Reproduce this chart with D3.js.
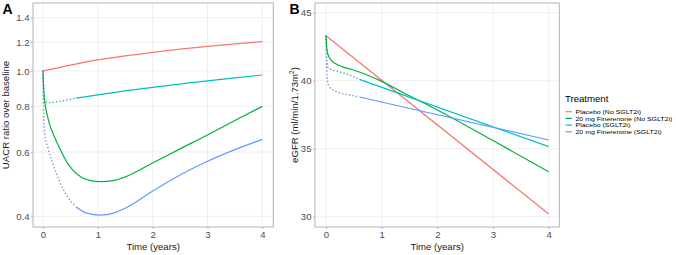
<!DOCTYPE html>
<html><head><meta charset="utf-8">
<script src="https://cdn.jsdelivr.net/npm/d3@7"></script>
<style>body{margin:0;background:#fff}svg{display:block;font-family:"Liberation Sans",Arial,sans-serif;font-weight:400}</style>
</head><body><svg id="c" width="676" height="255"></svg>
<script>
// ---------- data ----------
const seriesNames = ["Placebo (No SGLT2i)", "20 mg Finerenone (No SGLT2i)", "Placebo (SGLT2i)", "20 mg Finerenone (SGLT2i)"];
const seriesColors = ["#F8766D", "#00B140", "#00BFC4", "#619CFF"];
const xTicks = [0, 1, 2, 3, 4];
const uacrTicks = [0.4, 0.6, 0.8, 1.0, 1.2, 1.4];
const egfrTicks = [30, 35, 40, 45];

// Panel A: UACR ratio over baseline  [time, value]
const uacrPlaceboNo = [[0,1.0],[0.5,1.038],[1,1.072],[1.5,1.1],[2,1.125],[2.5,1.148],[3,1.168],[3.5,1.186],[4,1.203]];
const uacrFinNo = [[0,1.0],[0.015,0.88],[0.03,0.83],[0.07,0.765],[0.12,0.715],[0.2,0.665],[0.27,0.63],[0.4,0.575],[0.52,0.54],[0.7,0.512],[0.85,0.502],[1.05,0.498],[1.3,0.502],[1.5,0.513],[2,0.56],[2.5,0.612],[3,0.668],[3.5,0.732],[4,0.80]];
const uacrPlaceboSgltDot = [[0,1.0],[0.01,0.9],[0.025,0.845],[0.05,0.825],[0.1,0.819],[0.3,0.826],[0.6,0.842]];
const uacrPlaceboSglt = [[0.6,0.842],[1,0.86],[1.5,0.882],[2,0.902],[2.5,0.921],[3,0.94],[3.5,0.958],[4,0.975]];
const uacrFinSgltDot = [[0,1.0],[0.005,0.86],[0.012,0.76],[0.03,0.68],[0.09,0.617],[0.18,0.558],[0.3,0.5],[0.45,0.452],[0.6,0.425]];
const uacrFinSglt = [[0.6,0.425],[0.8,0.408],[1.05,0.403],[1.3,0.409],[1.5,0.421],[2,0.469],[2.5,0.519],[3,0.566],[3.5,0.609],[4,0.65]];

// Panel B: eGFR (ml/min/1.73m2)
const egfrPlaceboNo = [[0,43.3],[4,30.2]];
const egfrFinNo = [[0,43.3],[0.01,42.6],[0.025,42.1],[0.06,41.7],[0.1,41.48],[0.16,41.28],[0.3,41.02],[0.45,40.84],[0.75,40.4],[1,39.95],[1.4,39.1],[2,37.85],[3,35.6],[4,33.3]];
const egfrPlaceboSgltDot = [[0,43.3],[0.01,41.8],[0.03,41.0],[0.08,40.85],[0.185,40.71],[0.42,40.42],[0.6,40.1]];
const egfrPlaceboSglt = [[0.6,40.1],[4,35.15]];
const egfrFinSgltDot = [[0,43.3],[0.01,41.0],[0.03,39.9],[0.07,39.5],[0.13,39.32],[0.27,39.07],[0.42,38.95],[0.6,38.8]];
const egfrFinSglt = [[0.6,38.8],[4,35.64]];

// ---------- drawing ----------
const svg = d3.select("#c");
const gridCol = "#ebebeb", borderCol = "#b3b3b3", tickTxt = "#4d4d4d";
const FONT = "Liberation Sans, Arial, sans-serif";

function panel(opt) {
  const g = svg.append("g");
  const {x, y, box, ticksY, fmtY, lines, dots, yTitle, tag, tagX, yTitleX} = opt;
  g.append("rect").attr("x", box[0]).attr("y", box[1]).attr("width", box[2]-box[0]).attr("height", box[3]-box[1]).attr("fill", "#fff");
  g.selectAll(".gx").data(xTicks).join("line").attr("x1", d=>x(d)).attr("x2", d=>x(d)).attr("y1", box[1]).attr("y2", box[3]).attr("stroke", gridCol).attr("stroke-width", 0.8);
  g.selectAll(".gy").data(ticksY).join("line").attr("y1", d=>y(d)).attr("y2", d=>y(d)).attr("x1", box[0]).attr("x2", box[2]).attr("stroke", gridCol).attr("stroke-width", 0.8);
  const line = d3.line().x(d=>x(d[0])).y(d=>y(d[1])).curve(d3.curveMonotoneX);
  dots.forEach(([data, ci]) => {
    g.append("path").attr("d", line(data)).attr("fill", "none").attr("stroke", d3.interpolateRgb(seriesColors[ci], "#7f8c9f")(0.45))
      .attr("stroke-width", 1.5).attr("stroke-dasharray", "0.1,3.4").attr("stroke-linecap", "round");
  });
  lines.forEach(([data, ci]) => {
    g.append("path").attr("d", line(data)).attr("fill", "none").attr("stroke", seriesColors[ci]).attr("stroke-width", 1.2);
  });
  g.append("rect").attr("x", box[0]).attr("y", box[1]).attr("width", box[2]-box[0]).attr("height", box[3]-box[1]).attr("fill", "none").attr("stroke", borderCol).attr("stroke-width", 1);
  const ax = g.append("g").attr("transform", `translate(0,${box[3]})`).call(d3.axisBottom(x).tickValues(xTicks).tickSize(2).tickPadding(2).tickFormat(d3.format("d")));
  const ay = g.append("g").attr("transform", `translate(${box[0]},0)`).call(d3.axisLeft(y).tickValues(ticksY).tickSize(2).tickPadding(1.5).tickFormat(fmtY));
  [ax, ay].forEach(a => {
    a.attr("font-family", FONT);
    a.select(".domain").remove();
    a.selectAll("line").attr("stroke", borderCol);
    a.selectAll("text").attr("fill", tickTxt).attr("font-size", 9.6).attr("font-weight", 400);
  });
  g.append("text").attr("x", (box[0]+box[2])/2).attr("y", 250).attr("text-anchor", "middle").attr("font-size", 9.6).attr("fill", "#1a1a1a").text("Time (years)");
  const yt = g.append("text").attr("transform", `translate(${yTitleX},${(box[1]+box[3])/2}) rotate(-90)`).attr("text-anchor", "middle").attr("font-size", 9.6).attr("fill", "#1a1a1a");
  yTitle(yt);
  g.append("text").attr("x", tagX).attr("y", 13.5).attr("font-size", 14).attr("font-weight", "bold").text(tag);
}

// Panel A
const xA = d3.scaleLinear().domain([0, 4]).range([43, 262.3]);
const yA = d3.scaleLog().domain([0.374, 1.535]).range([227, 3]);
panel({x: xA, y: yA, box: [33, 3, 273.3, 227], ticksY: uacrTicks, fmtY: d3.format(".1f"),
  lines: [[uacrPlaceboNo,0],[uacrFinNo,1],[uacrPlaceboSglt,2],[uacrFinSglt,3]],
  dots: [[uacrPlaceboSgltDot,2],[uacrFinSgltDot,3]],
  yTitle: t => t.text("UACR ratio over baseline"), tag: "A", tagX: 2.5, yTitleX: 9});

// Panel B
const xB = d3.scaleLinear().domain([0, 4]).range([326, 548.7]);
const yB = d3.scaleLinear().domain([30, 45]).range([216.7, 12.7]);
panel({x: xB, y: yB, box: [315, 3, 559.3, 227], ticksY: egfrTicks, fmtY: d3.format("d"),
  lines: [[egfrPlaceboNo,0],[egfrFinNo,1],[egfrPlaceboSglt,2],[egfrFinSglt,3]],
  dots: [[egfrPlaceboSgltDot,2],[egfrFinSgltDot,3]],
  yTitle: t => { t.append("tspan").text("eGFR (ml/min/1.73m"); t.append("tspan").attr("font-size", 6.5).attr("dy", -4).text("2"); t.append("tspan").attr("dy", 4).text(")"); },
  tag: "B", tagX: 289.5, yTitleX: 298});

// Legend
const lg = svg.append("g");
lg.append("text").attr("x", 565).attr("y", 102).attr("font-size", 9.6).attr("fill", "#000").text("Treatment");
const legTexts = [];
seriesNames.forEach((n, i) => {
  const cy = 111.7 + i * 6.7;
  lg.append("line").attr("x1", 565.5).attr("x2", 572).attr("y1", cy).attr("y2", cy).attr("stroke", seriesColors[i]).attr("stroke-width", 1.2);
  legTexts.push(lg.append("text").attr("data-cy", cy).attr("font-size", 7.4).attr("fill", "#000").text(n));
});
const maxLen = d3.max(legTexts, t => t.node().getComputedTextLength());
const sx = Math.min(1, 97 / maxLen);
legTexts.forEach(t => t.attr("transform", `translate(575.5,${+t.attr("data-cy") + 2.2}) scale(${sx},0.74)`));
</script></body></html>
